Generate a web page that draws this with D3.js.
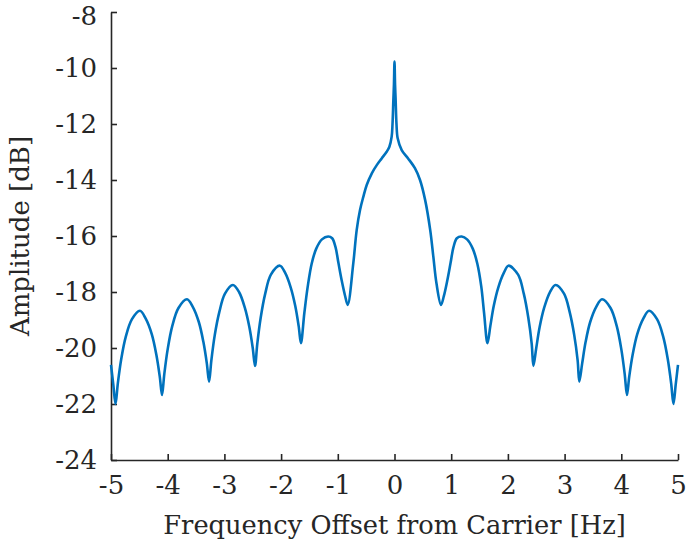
<!DOCTYPE html>
<html>
<head>
<meta charset="utf-8">
<script src="https://cdn.jsdelivr.net/npm/d3@7"></script>
<style>
  body { margin: 0; background: #fff; }
  svg { display: block; }
</style>
</head>
<body>
<div id="chart"></div>
<script>
// values (frequency in Hz, amplitude in dB)
const freqHz = [
  -5.00, -4.96, -4.92, -4.88, -4.82, -4.74, -4.63, -4.49, -4.39, -4.28, -4.20, -4.14,
  -4.10, -4.06, -4.00, -3.92, -3.81, -3.66, -3.56, -3.45, -3.37, -3.31,
  -3.27, -3.23, -3.17, -3.09, -2.99, -2.85, -2.74, -2.64, -2.56, -2.50,
  -2.46, -2.42, -2.36, -2.28, -2.18, -2.02, -1.93, -1.83, -1.75, -1.69,
  -1.65, -1.59, -1.53, -1.46, -1.38, -1.28, -1.17, -1.10, -1.04, -0.99, -0.93, -0.87,
  -0.825, -0.727, -0.667, -0.608, -0.55, -0.49, -0.40, -0.31, -0.226, -0.138, -0.09, -0.05, -0.035, -0.02, -0.01,
  0,
  0.01, 0.02, 0.035, 0.056, 0.127, 0.24, 0.36, 0.45, 0.54, 0.63, 0.685, 0.74,
  0.82, 0.87, 0.93, 0.99, 1.04, 1.10, 1.185, 1.28, 1.38, 1.46, 1.53, 1.58,
  1.64, 1.69, 1.75, 1.83, 1.93, 2.01, 2.18, 2.28, 2.36, 2.42,
  2.45, 2.50, 2.56, 2.64, 2.74, 2.84, 2.99, 3.09, 3.17, 3.23,
  3.26, 3.31, 3.37, 3.45, 3.56, 3.66, 3.81, 3.92, 4.00, 4.06,
  4.10, 4.14, 4.20, 4.28, 4.39, 4.49, 4.63, 4.74, 4.82, 4.88,
  4.92, 4.96, 5.00
];
const amplitudeDb = [
  -20.6, -21.3, -22.0, -21.27, -20.40, -19.60, -18.97, -18.67, -18.94, -19.51, -20.24, -21.02,
  -21.68, -20.93, -20.04, -19.22, -18.57, -18.26, -18.52, -19.08, -19.79, -20.55,
  -21.2, -20.44, -19.54, -18.72, -18.06, -17.75, -18.01, -18.56, -19.25, -20.00,
  -20.64, -19.85, -18.92, -18.06, -17.38, -17.06, -17.31, -17.84, -18.50, -19.22,
  -19.83, -18.75, -17.80, -16.98, -16.45, -16.12, -16.02, -16.08, -16.40, -16.95, -17.60, -18.15,
  -18.46, -16.98, -15.79, -15.07, -14.60, -14.18, -13.76, -13.46, -13.23, -12.99, -12.81, -12.45, -12.0, -11.14, -10.6,
  -9.77,
  -10.6, -11.14, -12.0, -12.51, -12.93, -13.23, -13.58, -14.00, -14.71, -15.79, -16.74, -17.69,
  -18.46, -18.15, -17.60, -16.95, -16.40, -16.08, -16.02, -16.12, -16.45, -16.98, -17.80, -18.75,
  -19.83, -19.22, -18.50, -17.84, -17.31, -17.06, -17.38, -18.06, -18.92, -19.85,
  -20.64, -20.00, -19.25, -18.56, -18.01, -17.75, -18.06, -18.72, -19.54, -20.44,
  -21.2, -20.55, -19.79, -19.08, -18.52, -18.26, -18.57, -19.22, -20.04, -20.93,
  -21.68, -21.02, -20.24, -19.51, -18.94, -18.67, -18.97, -19.60, -20.40, -21.27,
  -22.0, -21.3, -20.6
];
const xTicks = [-5, -4, -3, -2, -1, 0, 1, 2, 3, 4, 5];
const yTicks = [-24, -22, -20, -18, -16, -14, -12, -10, -8];

const data = freqHz.map((f, i) => ({f: f, a: amplitudeDb[i]}));

const W = 687, H = 545;
const margin = {left: 111, right: 9, top: 12, bottom: 85};
const width = W - margin.left - margin.right;
const height = H - margin.top - margin.bottom;
const axisColor = "#262626";
const fontFam = "'DejaVu Serif', 'Liberation Serif', serif";

const svg = d3.select("#chart")
  .append("svg")
  .attr("width", W)
  .attr("height", H)
  .append("g")
  .attr("transform", "translate(" + margin.left + "," + margin.top + ")");

const xScale = d3.scaleLinear().domain([-5, 5]).range([0, width]);
const yScale = d3.scaleLinear().domain([-24, -8]).range([height, 0]);

// x axis, ticks pointing inward
const xAxis = svg.append("g")
  .attr("transform", `translate(0,${height})`)
  .call(d3.axisBottom(xScale)
    .tickValues(xTicks)
    .tickFormat(d3.format("d"))
    .tickSizeInner(-6)
    .tickSizeOuter(0)
    .tickPadding(16));

const yAxis = svg.append("g")
  .call(d3.axisLeft(yScale)
    .tickValues(yTicks)
    .tickFormat(d3.format("d"))
    .tickSizeInner(-6)
    .tickSizeOuter(0)
    .tickPadding(14));

[xAxis, yAxis].forEach(g => {
  g.attr("font-family", fontFam).attr("font-size", 26);
  g.selectAll(".domain").attr("stroke", axisColor).attr("stroke-width", 1.6);
  g.selectAll(".tick line").attr("stroke", axisColor).attr("stroke-width", 1.6);
  g.selectAll(".tick text").attr("fill", axisColor);
});
// plain hyphen for negatives, like the original
svg.selectAll(".tick text").text(d => d < 0 ? "-" + Math.abs(d) : d);
// top label sits a little lower so it stays inside the figure
yAxis.selectAll(".tick text").filter(d => d === -8).attr("y", 4);

const line = d3.line()
  .x(d => xScale(d.f))
  .y(d => yScale(d.a))
  .curve(d3.curveCatmullRom.alpha(0.5));

svg.append("path")
  .datum(data)
  .attr("fill", "none")
  .attr("stroke", "#0072BD")
  .attr("stroke-width", 2.6)
  .attr("stroke-linejoin", "round")
  .attr("d", line);

// axis titles
svg.append("text")
  .attr("x", width / 2)
  .attr("y", height + 74)
  .attr("text-anchor", "middle")
  .attr("font-family", fontFam)
  .attr("font-size", 25.7)
  .attr("fill", axisColor)
  .text("Frequency Offset from Carrier [Hz]");

svg.append("text")
  .attr("transform", `translate(${-82},${height / 2}) rotate(-90)`)
  .attr("text-anchor", "middle")
  .attr("font-family", fontFam)
  .attr("font-size", 26)
  .attr("fill", axisColor)
  .text("Amplitude [dB]");
</script>
</body>
</html>
